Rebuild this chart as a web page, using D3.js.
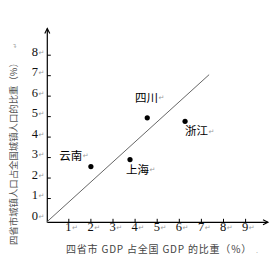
<!DOCTYPE html>
<html><head><meta charset="utf-8">
<script src="https://cdn.jsdelivr.net/npm/d3@7"></script>
<style>body{margin:0;background:#fff}svg{display:block}</style>
</head><body>
<script>
const xTicks = [1,2,3,4,5,6,7,8,9];
const yTicks = [0,1,2,3,4,5,6,7,8];
const provinces = ["云南","上海","四川","浙江"];
const gdpShare = [2.0, 3.77, 4.55, 6.26];
const urbanShare = [2.56, 2.9, 4.94, 4.77];
const diagonal = [[0,-0.15],[7.35,7.05]];
const xTitle = "四省市 GDP 占全国 GDP 的比重（%）";
const yTitle = "四省市城镇人口占全国城镇人口的比重（%）";

const W=275,H=264;
const svg=d3.select("body").append("svg").attr("width",W).attr("height",H);
const x=d3.scaleLinear().domain([0,9]).range([46.7,245.6]);
const y=d3.scaleLinear().domain([0,8]).range([219,55.2]);
const ox=47.3, oy=222.3;
const serif="'Liberation Serif','Times New Roman',serif";
const cjk="'Noto Sans CJK SC','Noto Sans CJK JP',sans-serif";
const mark="#9a9a9a";

// axes lines
svg.append("line").attr("x1",ox).attr("y1",oy).attr("x2",268).attr("y2",oy).attr("stroke","#000").attr("stroke-width",1.2);
svg.append("line").attr("x1",ox).attr("y1",oy).attr("x2",ox).attr("y2",28.5).attr("stroke","#000").attr("stroke-width",1.2);
svg.append("path").attr("d",`M${268-5},${oy-2.5}L268,${oy}L${268-5},${oy+2.5}`).attr("fill","none").attr("stroke","#000").attr("stroke-width",1.1);
svg.append("path").attr("d",`M${ox-2.5},${28.5+5}L${ox},28.5L${ox+2.5},${28.5+5}`).attr("fill","none").attr("stroke","#000").attr("stroke-width",1.1);

// x ticks
const xg=svg.append("g");
xTicks.forEach(t=>{
  xg.append("line").attr("x1",x(t)).attr("x2",x(t)).attr("y1",oy).attr("y2",oy-3.5).attr("stroke","#000");
  const tx=xg.append("text").attr("x",x(t)-3.5).attr("y",230.5).attr("font-family",serif).attr("font-size",12.5).attr("fill","#111");
  tx.append("tspan").text(t);
  tx.append("tspan").attr("font-family","'DejaVu Sans'").attr("font-size",7).attr("fill",mark).attr("dx",0.5).attr("dy",-1).text("↵");
});
// y ticks
const yg=svg.append("g");
yTicks.forEach(t=>{
  if(t>0) yg.append("line").attr("x1",ox).attr("x2",ox+3.5).attr("y1",y(t)).attr("y2",y(t)).attr("stroke","#000");
  yg.append("text").attr("x",38).attr("y",y(t)+0.8).attr("text-anchor","end").attr("font-family",serif).attr("font-size",12.5).attr("fill","#111").text(t);
  yg.append("text").attr("x",38.5).attr("y",y(t)-0.5).attr("font-family","'DejaVu Sans'").attr("font-size",7).attr("fill",mark).text("↵");
});

// diagonal
svg.append("path").attr("d",d3.line().x(d=>x(d[0])).y(d=>y(d[1]))(diagonal)).attr("stroke","#666").attr("stroke-width",1).attr("fill","none");

// points
const labelPos=[[59.3,159.5],[126,173.5],[135,101.5],[185,135]];
provinces.forEach((p,i)=>{
  svg.append("circle").attr("cx",x(gdpShare[i])).attr("cy",y(urbanShare[i])).attr("r",2.6).attr("fill","#000");
  const t=svg.append("text").attr("x",labelPos[i][0]).attr("y",labelPos[i][1]).attr("font-family",cjk).attr("font-size",11.5).attr("fill","#000");
  t.append("tspan").text(p);
  t.append("tspan").attr("font-family","'DejaVu Sans'").attr("font-size",7).attr("fill",mark).attr("dx",0.5).attr("dy",-1.5).text("↵");
});

// titles
svg.append("text").attr("x",66).attr("y",253).attr("font-family",cjk).attr("font-size",10).attr("letter-spacing",0.8).attr("fill","#444").text(xTitle);
svg.append("text").attr("x",256).attr("y",253).attr("font-family",serif).attr("font-size",8).attr("fill",mark).text(".");
svg.append("text").attr("transform","translate(17,245) rotate(-90)").attr("font-family",cjk).attr("font-size",9.4).attr("fill","#555").text(yTitle);
svg.append("text").attr("transform","translate(17,48) rotate(-90)").attr("font-family","'DejaVu Sans'").attr("font-size",6).attr("fill",mark).text("↵");
</script>
</body></html>
